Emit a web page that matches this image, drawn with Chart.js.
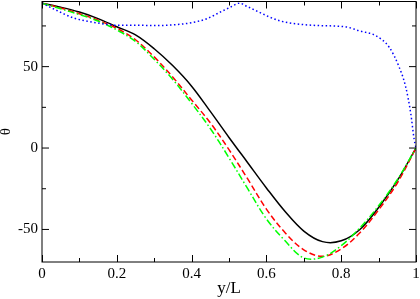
<!DOCTYPE html>
<html>
<head>
<meta charset="utf-8">
<script src="https://cdn.jsdelivr.net/npm/chart.js@4.4.0/dist/chart.umd.min.js"></script>
<style>
  html, body { margin: 0; padding: 0; background: #fff; }
</style>
</head>
<body>
<canvas id="theta" width="420" height="299"></canvas>
<script>
// y/L positions shared by the three lower curves
const xs = [0, 0.05, 0.1, 0.15, 0.2, 0.25, 0.3, 0.35, 0.4, 0.45, 0.5,
            0.55, 0.6, 0.65, 0.7, 0.75, 0.8, 0.85, 0.9, 0.95, 1];
const blackY = [89, 86.5, 83.5, 79.5, 74.5, 69.5, 61, 50.5, 38, 22.5, 6.5,
                -9, -24.5, -39, -51, -57.5, -57, -50, -36.5, -20, 0];
const redY = [89, 86, 82.5, 78.5, 73.5, 66.5, 56, 43.5, 29.5, 15.5, -1,
              -19, -37.5, -52, -62.5, -66.5, -62, -52, -38, -21.5, 0];
const greenY = [89, 85.5, 82, 78, 72.5, 65.5, 54.5, 42, 27.5, 12, -6,
                -25, -43.5, -57, -67.5, -67, -60, -49, -35.5, -19.5, 0];

// blue dotted curve has its own sampling
const blueX = [0, 0.035, 0.083, 0.128, 0.173, 0.2, 0.261, 0.3, 0.368, 0.4, 0.439,
               0.4835, 0.508, 0.528, 0.548, 0.5725, 0.635, 0.7235, 0.8125, 0.848,
               0.8925, 0.928, 0.955, 0.9725, 0.986, 0.995, 1];
const blueY = [89, 85, 80, 77.6, 76, 75.4, 75.4, 75.2, 76, 77, 79.3,
               84.3, 87, 89, 87, 84.3, 78.2, 75.4, 74.4, 72,
               69, 62, 49.7, 37.5, 21.2, 5.5, 0];

const xTicks = [0, 0.2, 0.4, 0.6, 0.8, 1];
const xTickLabels = ["0", "0.2", "0.4", "0.6", "0.8", "1"];
const xMinor = [0.1, 0.3, 0.5, 0.7, 0.9];
const yTicks = [-50, 0, 50];
const yTickLabels = ["-50", "0", "50"];
const yMinor = [-25, 25, 75];

const serif = "'Liberation Serif', 'DejaVu Serif', serif";

const pts = (xv, yv) => xv.map((x, i) => ({ x: x, y: yv[i] }));

// box frame with inward major/minor ticks on every side
const frameTicks = {
  id: "frameTicks",
  afterDraw(chart) {
    const { ctx, chartArea: a, scales } = chart;
    const sx = scales.x, sy = scales.y;
    ctx.save();
    ctx.strokeStyle = "#000";
    ctx.lineWidth = 1;
    ctx.strokeRect(a.left, a.top, a.right - a.left, a.bottom - a.top);
    const seg = (x1, y1, x2, y2) => {
      ctx.beginPath();
      ctx.moveTo(x1, y1);
      ctx.lineTo(x2, y2);
      ctx.stroke();
    };
    const xMarks = (vals, len) => vals.forEach((v) => {
      const px = Math.round(sx.getPixelForValue(v)) + 0.5;
      seg(px, a.bottom, px, a.bottom - len);
      seg(px, a.top, px, a.top + len);
    });
    const yMarks = (vals, len) => vals.forEach((v) => {
      const py = sy.getPixelForValue(v);
      seg(a.left, py, a.left + len, py);
      seg(a.right, py, a.right - len, py);
    });
    xMarks(xTicks, 7);
    xMarks(xMinor, 4);
    yMarks(yTicks, 7);
    yMarks(yMinor, 4);
    ctx.restore();
  },
};

const ctx = document.getElementById("theta").getContext("2d");
const thetaChart = new Chart(ctx, {
  type: "line",
  data: {
    datasets: [
      {
        data: pts(blueX, blueY),
        borderColor: "#0000ff",
        borderWidth: 1.5,
        borderDash: [1.5, 2.5],
        cubicInterpolationMode: "monotone",
      },
      {
        data: pts(xs, greenY),
        borderColor: "#00ff00",
        borderWidth: 1.5,
        borderDash: [7, 2.5, 1.5, 2.5],
      },
      {
        data: pts(xs, redY),
        borderColor: "#ff0000",
        borderWidth: 1.5,
        borderDash: [6, 3],
      },
      {
        data: pts(xs, blackY),
        borderColor: "#000000",
        borderWidth: 1.5,
      },
    ],
  },
  options: {
    responsive: false,
    animation: false,
    tension: 0.35,
    pointRadius: 0,
    layout: { padding: { top: 1.5, right: 4, left: 0, bottom: 0 } },
    plugins: { legend: { display: false }, tooltip: { enabled: false } },
    scales: {
      x: {
        type: "linear",
        min: 0,
        max: 1,
        afterBuildTicks: (s) => { s.ticks = xTicks.map((v) => ({ value: v })); },
        afterFit: (s) => { s.height = 37; s.paddingLeft = 0; s.paddingRight = 0; },
        ticks: {
          color: "#000",
          padding: 3,
          maxRotation: 0,
          autoSkip: false,
          font: { family: serif, size: 15 },
          callback: (v, i) => xTickLabels[i],
        },
        grid: { display: false, drawTicks: false },
        border: { display: false },
        title: {
          display: true,
          text: "y/L",
          color: "#000",
          padding: 0,
          font: { family: serif, size: 17 },
        },
      },
      y: {
        type: "linear",
        min: -70,
        max: 90,
        afterBuildTicks: (s) => { s.ticks = yTicks.map((v) => ({ value: v })); },
        afterFit: (s) => { s.width = 42; s.paddingTop = 0; s.paddingBottom = 0; },
        ticks: {
          color: "#000",
          padding: 4,
          autoSkip: false,
          font: { family: serif, size: 15 },
          callback: (v, i) => yTickLabels[i],
        },
        grid: { display: false, drawTicks: false },
        border: { display: false },
        title: {
          display: true,
          text: "θ",
          color: "#000",
          padding: 0,
          font: { family: serif, size: 15, lineHeight: 0.8 },
        },
      },
    },
  },
  plugins: [frameTicks],
});
</script>
</body>
</html>
